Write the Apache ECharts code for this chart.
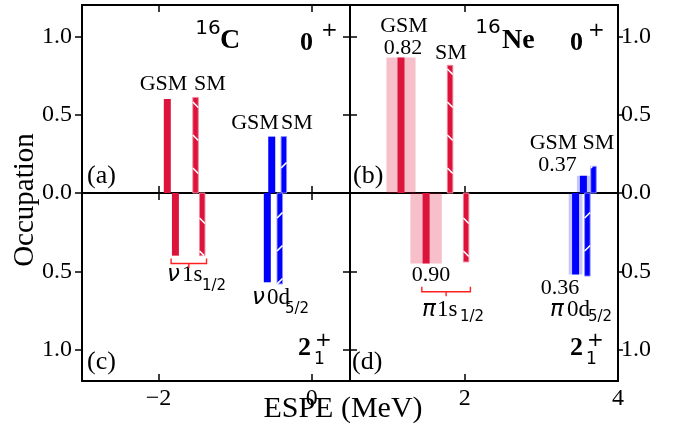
<!DOCTYPE html>
<html><head><meta charset="utf-8">
<script src="https://cdn.jsdelivr.net/npm/echarts@6/dist/echarts.min.js"></script>
<style>html,body{margin:0;padding:0;background:#fff}#c{width:678px;height:438px}</style>
</head><body><div id="c"></div>
<script>
// Orbital entries in each panel: [GSM s1/2, SM s1/2, GSM d5/2, SM d5/2]
const orbitals = ['GSM 1s1/2', 'SM 1s1/2', 'GSM 0d5/2', 'SM 0d5/2'];
// (a) 16C 0+
const espeC0 = [-1.886, -1.517, -0.522, -0.364];
const occC0  = [0.60, 0.61, 0.36, 0.36];
// (c) 16C 2+
const espeC2 = [-1.78, -1.43, -0.58, -0.417];
const occC2  = [0.40, 0.40, 0.57, 0.58];
// (b) 16Ne 0+
const espeNe0 = [1.166, 1.807, 3.548, 3.68];
const occNe0  = [0.865, 0.815, 0.11, 0.17];
const halfWidthNe0 = [0.19, 0, 0.085, 0];   // GSM resonance width (half, MeV)
// (d) 16Ne 2+
const espeNe2 = [1.494, 2.016, 3.446, 3.60];
const occNe2  = [0.45, 0.44, 0.52, 0.53];
const halfWidthNe2 = [0.205, 0, 0.09, 0];
const zeroWidth = [0, 0, 0, 0];
// bracket levels (occupation) below the s1/2 pairs
const bracketC2 = [espeC2[0], espeC2[1], 0.45];
const bracketNe2 = [espeNe2[0], espeNe2[1], 0.63];
// axis ticks
const xRangeLeft = [-3, 0.5], xTicksLeft = [-2, 0];
const xRangeRight = [0.5, 4], xTicksRight = [2, 4];
const yRange = [0, 1.2];
const yTicksTop = [0, 0.5, 1.0], yTicksBottom = [0.5, 1.0];

const SERIF = 'Liberation Serif', SANS = 'DejaVu Sans';
const RED = '#DC143C', BLUE = '#0000FF';

const chart = echarts.init(document.getElementById('c'), null, {renderer: 'canvas'});

const grids = [
  {left: 82, top: 5, width: 268, height: 188},
  {left: 350, top: 5, width: 268, height: 188},
  {left: 82, top: 193, width: 268, height: 188},
  {left: 350, top: 193, width: 268, height: 188}
];

const lineStyle = {color: '#000', width: 2};
function xAx(g, pos, range, ticks, labels) {
  return {
    type: 'value', gridIndex: g, position: pos, min: range[0], max: range[1],
    axisLine: {show: true, onZero: false, lineStyle},
    axisTick: {show: true, inside: true, length: 7, lineStyle: {color: '#000', width: 1.5}, customValues: ticks},
    axisLabel: {show: !!labels, customValues: labels || [], margin: 6,
      formatter: v => String(v).replace('-', '\u2212'),
      fontFamily: SERIF, fontSize: 24, color: '#000'},
    splitLine: {show: false}
  };
}
function yAx(g, pos, inverse, ticks, labels, inside, margin, len) {
  return {
    type: 'value', gridIndex: g, position: pos, min: yRange[0], max: yRange[1], inverse,
    axisLine: {show: true, onZero: false, lineStyle},
    axisTick: {show: true, inside, length: len || 7, lineStyle: {color: '#000', width: 1.5}, customValues: ticks},
    axisLabel: {show: !!labels, customValues: labels || [], margin,
      formatter: v => v.toFixed(1), fontFamily: SERIF, fontSize: 24, color: '#000'},
    splitLine: {show: false}
  };
}

const xAxis = [
  xAx(0, 'bottom', xRangeLeft, xTicksLeft), xAx(0, 'top', xRangeLeft, xTicksLeft),
  xAx(1, 'bottom', xRangeRight, xTicksRight), xAx(1, 'top', xRangeRight, xTicksRight),
  xAx(2, 'bottom', xRangeLeft, xTicksLeft, xTicksLeft), xAx(2, 'top', xRangeLeft, xTicksLeft),
  xAx(3, 'bottom', xRangeRight, xTicksRight, xTicksRight), xAx(3, 'top', xRangeRight, xTicksRight)
];
const yAxis = [
  yAx(0, 'left', false, yTicksTop, yTicksTop, false, 10), yAx(0, 'right', false, yTicksTop, null, true, 0),
  yAx(1, 'left', false, yTicksTop, null, true, 0), yAx(1, 'right', false, yTicksTop, yTicksTop, false, 3, 5),
  yAx(2, 'left', true, yTicksBottom, yTicksBottom, false, 10), yAx(2, 'right', true, yTicksBottom, null, true, 0),
  yAx(3, 'left', true, yTicksBottom, null, true, 0), yAx(3, 'right', true, yTicksBottom, yTicksBottom, false, 3, 5)
];

function renderBar(params, api) {
  const x = api.value(0), y = api.value(1), hw = api.value(2), k = api.value(3);
  const red = k < 2, hatched = (k % 2) === 1;
  const color = red ? RED : BLUE;
  const p0 = api.coord([x, 0]), p1 = api.coord([x, y]);
  const top = Math.min(p0[1], p1[1]), bot = Math.max(p0[1], p1[1]);
  const base = p0[1];
  const children = [];
  if (hw > 0) {
    const b0 = api.coord([x - hw, 0]), b1 = api.coord([x + hw, 0]);
    children.push({type: 'rect', shape: {x: b0[0], y: top, width: b1[0] - b0[0], height: bot - top},
      style: {fill: red ? 'rgba(220,20,60,0.27)' : 'rgba(0,0,255,0.22)'}});
  }
  const w = hatched ? 5.5 : 7;
  const x0 = p0[0] - w / 2;
  children.push({type: 'rect', shape: {x: x0, y: top, width: w, height: bot - top},
    style: hatched ? {fill: color, stroke: red ? 'rgba(240,140,160,0.9)' : 'rgba(140,140,255,0.9)', lineWidth: 1}
                   : {fill: color}});
  if (hatched) {
    const sp = 33;
    const dirUp = !red; // '/' for blue, '\' for red
    for (let k2 = -2; k2 < 60; k2++) {
      const yc = base + (base < top + 1 ? 1 : -1) * (25 + k2 * sp);
      let t0, t1, ya, yb;
      if (dirUp) {
        t0 = Math.max(0, yc - bot); t1 = Math.min(w, yc - top);
        if (t1 <= t0) continue;
        ya = yc - t0; yb = yc - t1;
      } else {
        t0 = Math.max(0, top - yc); t1 = Math.min(w, bot - yc);
        if (t1 <= t0) continue;
        ya = yc + t0; yb = yc + t1;
      }
      children.push({type: 'line', shape: {x1: x0 + t0, y1: ya, x2: x0 + t1, y2: yb},
        style: {stroke: '#fff', lineWidth: 1.6}});
    }
  }
  return {type: 'group', children};
}

function renderBracket(params, api) {
  const a = api.coord([api.value(0), api.value(2)]);
  const b = api.coord([api.value(1), api.value(2)]);
  const l = a[0] - 4.3, r = b[0] + 4.3, y = a[1];
  return {type: 'group', children: [
    {type: 'polyline', shape: {points: [[l, y - 5], [l, y], [r, y], [r, y - 5]]},
      style: {stroke: '#FF2020', lineWidth: 1.4, fill: null}},
    {type: 'line', shape: {x1: (l + r) / 2, y1: y, x2: (l + r) / 2, y2: y + 4.5},
      style: {stroke: '#FF2020', lineWidth: 1.4}}
  ]};
}

function barSeries(g, espe, occ, hws) {
  return {type: 'custom', xAxisIndex: 2 * g, yAxisIndex: 2 * g, renderItem: renderBar, clip: false,
    dimensions: ['espe', 'occ', 'hw', 'k'], encode: {x: 0, y: 1},
    data: espe.map((e, i) => [e, occ[i], hws[i], i])};
}
function bracketSeries(g, br) {
  return {type: 'custom', xAxisIndex: 2 * g, yAxisIndex: 2 * g, renderItem: renderBracket, clip: false,
    encode: {x: [0, 1], y: 2}, data: [br]};
}

function T(text, x, y, font, align, extra) {
  return Object.assign({type: 'text', x, y, silent: true,
    style: {text, font, fill: '#000', align: align || 'center', verticalAlign: 'middle'}}, extra || {});
}
const F22 = '22px "' + SERIF + '"';
const FP = '26px "' + SERIF + '"';
const FB = 'bold 28px "' + SERIF + '"';
const FB0 = 'bold 26px "' + SERIF + '"';
const FS = '20px "' + SANS + '"';
const FN = 'italic 23px "' + SANS + '"';
const FM = '23px "' + SERIF + '"';
const FSUB = '15px "' + SANS + '"';

const texts = [
  // (a)
  T('16', 208, 29, FS), T('C', 220, 41, FB, 'left'),
  T('0', 300, 43, FB0, 'left'), T('+', 321, 31, FS, 'left'),
  T('GSM', 163.5, 84, F22), T('SM', 210, 84, F22),
  T('GSM', 255, 123, F22), T('SM', 297, 123, F22),
  T('(a)', 87, 176, FP, 'left'),
  // (b)
  T('GSM', 404, 26, F22), T('0.82', 403, 48, F22), T('SM', 451, 53, F22),
  T('16', 488, 28, FS), T('Ne', 502, 41, FB, 'left'),
  T('0', 570, 43, FB0, 'left'), T('+', 588, 31, FS, 'left'),
  T('GSM', 553.5, 143, F22), T('SM', 598.5, 143, F22), T('0.37', 557.5, 165, F22),
  T('(b)', 353, 176, FP, 'left'),
  // (c)
  T('(c)', 87, 362, FP, 'left'),
  T('2', 298, 348, FB0, 'left'), T('1', 314, 360, '17px "' + SANS + '"', 'left'), T('+', 315, 341, FS, 'left'),
  T('\u03bd', 167, 275, FN, 'left'), T('1s', 182, 275, FM, 'left'), T('1/2', 202, 286, FSUB, 'left'),
  T('\u03bd', 252, 298, FN, 'left'), T('0d', 267, 298, FM, 'left'), T('5/2', 285, 309, FSUB, 'left'),
  // (d)
  T('(d)', 352, 362, FP, 'left'),
  T('2', 570, 348, FB0, 'left'), T('1', 586, 360, '17px "' + SANS + '"', 'left'), T('+', 587, 341, FS, 'left'),
  T('0.90', 431, 275, F22), T('0.36', 560, 288, F22),
  T('\u03c0', 422, 310, FN, 'left'), T('1s', 437, 310, FM, 'left'), T('1/2', 460, 317, FSUB, 'left'),
  T('\u03c0', 550, 310, FN, 'left'), T('0d', 567, 310, FM, 'left'), T('5/2', 588, 317, FSUB, 'left'),
  // axis titles
  T('Occupation', 25, 200, '29px "' + SERIF + '"', 'center', {rotation: Math.PI / 2}),
  T('ESPE (MeV)', 343, 409, '30px "' + SERIF + '"')
];

chart.setOption({
  animation: false,
  backgroundColor: '#fff',
  grid: grids,
  xAxis, yAxis,
  series: [
    barSeries(0, espeC0, occC0, zeroWidth),
    barSeries(1, espeNe0, occNe0, halfWidthNe0),
    barSeries(2, espeC2, occC2, zeroWidth),
    barSeries(3, espeNe2, occNe2, halfWidthNe2),
    bracketSeries(2, bracketC2),
    bracketSeries(3, bracketNe2)
  ],
  graphic: texts
});
</script></body></html>
